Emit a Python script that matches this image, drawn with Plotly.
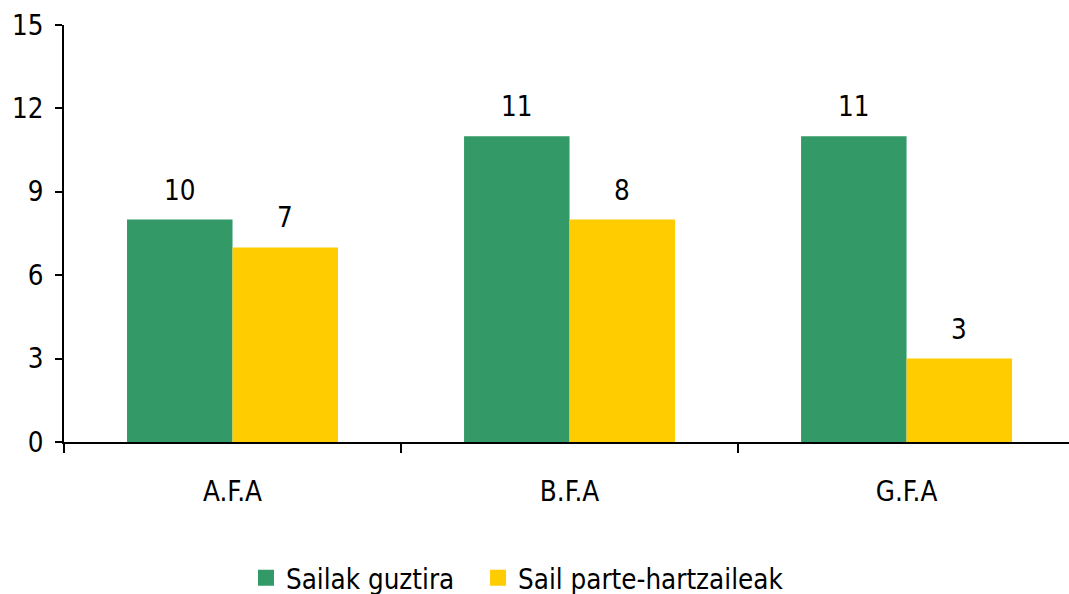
import plotly.graph_objects as go

categories = ["A.F.A", "B.F.A", "G.F.A"]
series_names = ["Sailak guztira", "Sail parte-hartzaileak"]
green_values = [8, 11, 11]
green_labels = ["10", "11", "11"]
yellow_values = [7, 8, 3]
yellow_labels = ["7", "8", "3"]
colors = ["#339966", "#FFCC00"]
y_ticks = [0, 3, 6, 9, 12, 15]

FONT = "DejaVu Sans Condensed, DejaVu Sans, sans-serif"
fs = 27.5

fig = go.Figure()
fig.add_trace(go.Bar(x=categories, y=green_values, name=series_names[0], showlegend=False,
                     marker=dict(color=colors[0], line=dict(width=0))))
fig.add_trace(go.Bar(x=categories, y=yellow_values, name=series_names[1], showlegend=False,
                     marker=dict(color=colors[1], line=dict(width=0))))
# legend entries with large square swatches (one legend box per series)
for name, col, lg in zip(series_names, colors, ["legend", "legend2"]):
    fig.add_trace(go.Scatter(x=[None], y=[None], mode="markers", name=name, legend=lg,
                             marker=dict(symbol="square", size=20, color=col, line=dict(width=0))))

bar_px = 105.5
annotations = []
for i, c in enumerate(categories):
    annotations.append(dict(x=c, y=green_values[i], text=green_labels[i], xref="x", yref="y",
                            showarrow=False, xshift=-bar_px / 2, yshift=12, yanchor="bottom",
                            font=dict(size=fs, color="#000000", family=FONT)))
    annotations.append(dict(x=c, y=yellow_values[i], text=yellow_labels[i], xref="x", yref="y",
                            showarrow=False, xshift=bar_px / 2, yshift=12, yanchor="bottom",
                            font=dict(size=fs, color="#000000", family=FONT)))

legend_common = dict(orientation="h", xref="container", yref="container", xanchor="left",
                     y=0.027, yanchor="middle", font=dict(size=fs), itemsizing="trace",
                     bgcolor="rgba(0,0,0,0)")

fig.update_layout(
    width=1069, height=594,
    margin=dict(l=64, r=0, t=25, b=152, autoexpand=False),
    paper_bgcolor="white", plot_bgcolor="white",
    barmode="group", bargap=0.374, bargroupgap=0,
    font=dict(family=FONT, size=fs, color="#000000"),
    showlegend=True,
    legend=dict(x=0.2301, **legend_common),
    legend2=dict(x=0.4472, **legend_common),
    annotations=annotations,
    xaxis=dict(range=[-0.5, 2.482], showline=True, linecolor="#000000", linewidth=2,
               ticks="outside", tickson="boundaries", ticklen=9, tickwidth=2, tickcolor="#000000",
               showgrid=False, zeroline=False, tickfont=dict(size=fs), ticklabelstandoff=24,
               automargin=False),
    yaxis=dict(range=[0, 15], tickvals=y_ticks, showline=True, linecolor="#000000",
               linewidth=2, ticks="outside", ticklen=7, tickwidth=2, tickcolor="#000000",
               showgrid=False, zeroline=False, tickfont=dict(size=fs), automargin=False,
               ticklabelstandoff=6),
)

# remove the default page margin so the figure fills the window exactly
fig.write_html("out.html", config={"displayModeBar": False},
               post_script="document.body.style.margin='0';")
